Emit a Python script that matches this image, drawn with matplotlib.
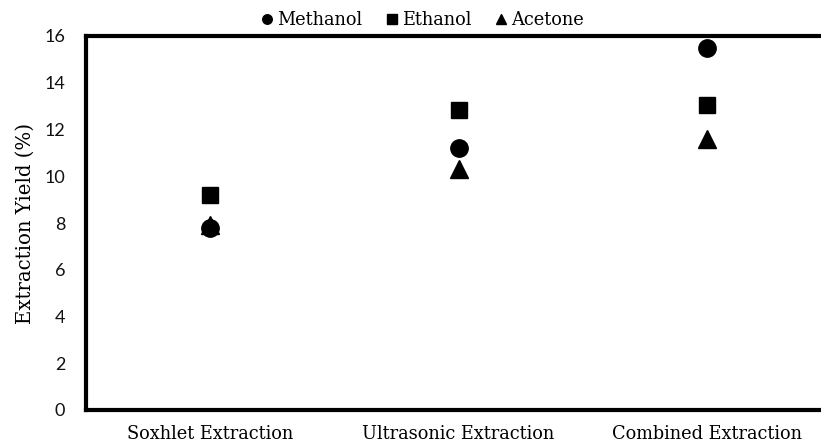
import matplotlib.pyplot as plt
import numpy as np

# data
categories = ['Soxhlet Extraction', 'Ultrasonic Extraction', 'Combined Extraction']
methanol = [7.8, 11.2, 15.5]
ethanol = [9.2, 12.85, 13.05]
acetone = [7.9, 10.3, 11.6]
y_ticks = [0, 2, 4, 6, 8, 10, 12, 14, 16]

fig = plt.figure(figsize=(8.21, 4.46), dpi=100)
# right edge of the frame sits outside the picture, like the original
ax = fig.add_axes([86 / 821, 36 / 446, 745 / 821, 374 / 446])

x = np.arange(len(categories))
ax.plot(x, acetone, '^', color='black', markersize=13, linestyle='none', label='Acetone', zorder=3)
ax.plot(x, methanol, 'o', color='black', markersize=12.5, linestyle='none', label='Methanol', zorder=4)
ax.plot(x, ethanol, 's', color='black', markersize=12, linestyle='none', label='Ethanol', zorder=3)

ax.set_xlim(-0.5, 2.5)
ax.set_ylim(0, 16)
ax.set_yticks(y_ticks)
ax.set_yticklabels([str(t) for t in y_ticks], fontfamily='Lato', fontsize=13, color='#111111')
ax.set_xticks(x)
ax.set_xticklabels(categories, fontfamily='DejaVu Serif', fontsize=12.8)
ax.tick_params(axis='y', length=0, pad=15)
ax.tick_params(axis='x', length=0, pad=11)
ax.set_ylabel('Extraction Yield (%)', fontfamily='DejaVu Serif', fontsize=14.2)
ax.yaxis.set_label_coords(-0.069, 0.5)

for s in ax.spines.values():
    s.set_linewidth(3)
    s.set_color('black')

handles, labels = ax.get_legend_handles_labels()
order = [1, 2, 0]
leg = fig.legend([handles[i] for i in order], [labels[i] for i in order],
                 loc='center', bbox_to_anchor=(421 / 821, 1 - 20 / 446), ncol=3,
                 frameon=False, markerscale=0.55, handletextpad=0.05, columnspacing=1.2,
                 handlelength=1.0, prop={'family': 'DejaVu Serif', 'size': 12.8})

fig.savefig('out.png', dpi=100)
